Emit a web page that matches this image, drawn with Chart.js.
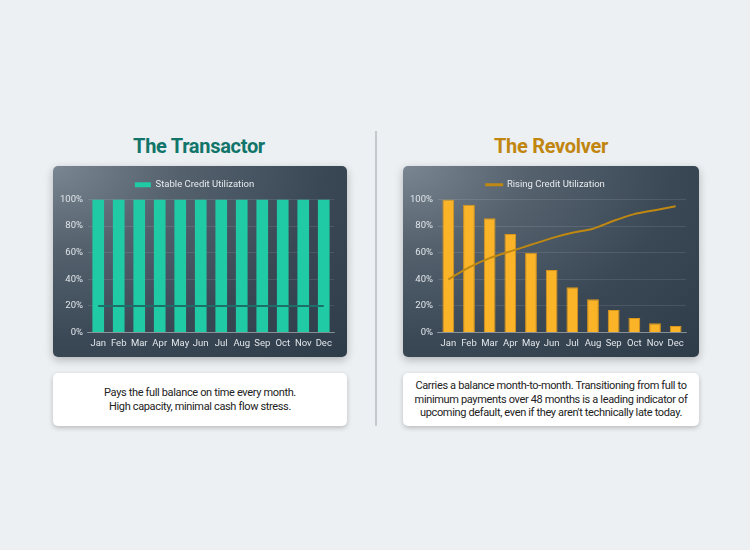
<!DOCTYPE html>
<html>
<head>
<meta charset="utf-8">
<script src="https://cdn.jsdelivr.net/npm/chart.js@4"></script>
<style>
  html, body { margin: 0; padding: 0; }
  body {
    width: 750px; height: 550px; position: relative; overflow: hidden;
    background: #edf0f3; font-family: Roboto, "Noto Sans", sans-serif;
  }
  .title {
    position: absolute; top: 134px; width: 300px; text-align: center;
    font-size: 20px; font-weight: 700; letter-spacing: -0.3px;
  }
  .card {
    position: absolute; top: 166px; height: 191px; border-radius: 5px;
    background: radial-gradient(ellipse at 0% 0%, #7a8792 0%, #55626e 30%, #3a4755 65%, #2e3b49 100%);
    box-shadow: 0 3px 8px rgba(0,0,0,0.25);
  }
  .card canvas { position: absolute; left: 0; top: 0; }
  .note {
    position: absolute; top: 373px; height: 53px; border-radius: 5px; background: #fff;
    box-shadow: 0 2px 5px rgba(0,0,0,0.22);
    display: flex; align-items: center; justify-content: center; text-align: center;
    font-size: 11px; line-height: 13.5px; color: #222; white-space: nowrap; letter-spacing: -0.35px;
  }
  .divider { position: absolute; left: 375px; top: 131px; width: 1.5px; height: 295px; background: #c3c9ce; }
</style>
</head>
<body>
  <div class="title" style="left:49px; color:#11756a;">The Transactor</div>
  <div class="title" style="left:401px; color:#c08610;">The Revolver</div>
  <div class="divider"></div>
  <div class="card" style="left:53px; width:294px;"><canvas id="left" width="294" height="191"></canvas></div>
  <div class="card" style="left:403px; width:296px;"><canvas id="right" width="296" height="191"></canvas></div>
  <div class="note" style="left:53px; width:294px;"><div>Pays the full balance on time every month.<br>High capacity, minimal cash flow stress.</div></div>
  <div class="note" style="left:403px; width:296px;"><div>Carries a balance month-to-month. Transitioning from full to<br>minimum payments over 48 months is a leading indicator of<br>upcoming default, even if they aren't technically late today.</div></div>
<script>
'use strict';

const MONTHS = ['Jan','Feb','Mar','Apr','May','Jun','Jul','Aug','Sep','Oct','Nov','Dec'];

/* Transactor */
const TRANSACTOR_BARS = [100,100,100,100,100,100,100,100,100,100,100,100];
const TRANSACTOR_LINE = [20,20,20,20,20,20,20,20,20,20,20,20];

/* Revolver */
const REVOLVER_BARS = [100,96,86,74,60,47,34,25,17,11,7,5];
const REVOLVER_LINE = [40,49,56,61,66,71,75,78,84,89,92,95];

const Y_TICKS = [0,20,40,60,80,100];

Chart.defaults.font.family = "Roboto, 'Noto Sans', sans-serif";
Chart.defaults.color = '#e1e6ea';
Chart.defaults.animation = false;

function makeOptions(legendLabel, boxHeight) {
  return {
    responsive: false,
    layout: { padding: { top: 6, right: 13, bottom: 3, left: 2 } },
    plugins: {
      legend: {
        labels: {
          filter: (item) => item.text === legendLabel,
          boxWidth: 16, boxHeight: boxHeight,
          font: { size: 9.5 }, color: '#e6eaee', padding: 8
        }
      },
      tooltip: { enabled: false }
    },
    scales: {
      x: {
        grid: { display: false, drawTicks: false },
        border: { color: 'rgba(255,255,255,0.35)' },
        ticks: { font: { size: 9.5 }, color: '#e1e6ea', padding: 5, maxRotation: 0, autoSkip: false }
      },
      y: {
        min: 0, max: 100,
        afterBuildTicks: (axis) => { axis.ticks = Y_TICKS.map(v => ({ value: v })); },
        grid: { color: 'rgba(255,255,255,0.1)', drawTicks: false },
        border: { display: false },
        ticks: { font: { size: 9.5 }, color: '#e1e6ea', padding: 5, callback: v => v + '%' }
      }
    }
  };
}

new Chart(document.getElementById('left'), {
  data: {
    labels: MONTHS,
    datasets: [
      {
        type: 'line', label: 'Target', data: TRANSACTOR_LINE,
        borderColor: '#1d6f6a', backgroundColor: '#1d6f6a', borderWidth: 2,
        pointRadius: 0, order: 0
      },
      {
        type: 'bar', label: 'Stable Credit Utilization', data: TRANSACTOR_BARS,
        backgroundColor: '#1fcaa5', borderWidth: 0,
        categoryPercentage: 0.6, barPercentage: 0.95, order: 1
      }
    ]
  },
  options: makeOptions('Stable Credit Utilization', 5)
});

new Chart(document.getElementById('right'), {
  data: {
    labels: MONTHS,
    datasets: [
      {
        type: 'line', label: 'Rising Credit Utilization', data: REVOLVER_LINE,
        borderColor: '#bf8812', backgroundColor: '#bf8812', borderWidth: 2,
        pointRadius: 0, tension: 0.2, order: 0
      },
      {
        type: 'bar', label: 'Balance', data: REVOLVER_BARS,
        backgroundColor: '#fbb328', borderColor: '#d99518', borderWidth: 1,
        categoryPercentage: 0.6, barPercentage: 0.95, order: 1
      }
    ]
  },
  options: makeOptions('Rising Credit Utilization', 1)
});
</script>
</body>
</html>
